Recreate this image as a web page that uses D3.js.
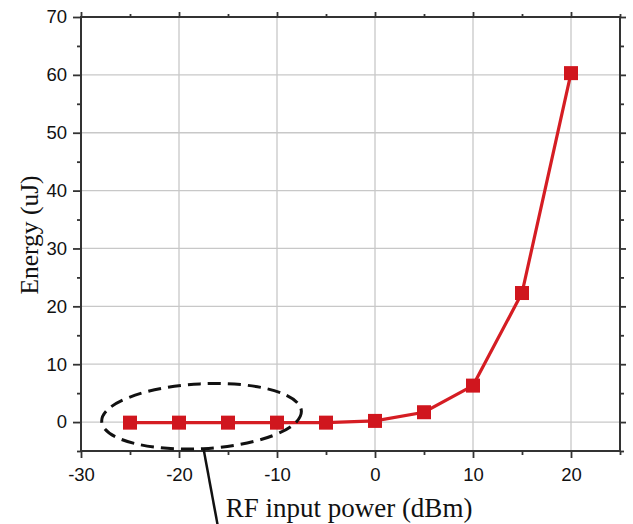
<!DOCTYPE html>
<html><head><meta charset="utf-8">
<script src="https://cdn.jsdelivr.net/npm/d3@7/dist/d3.min.js"></script>
<style>body{margin:0;background:#fff}svg{display:block}</style>
</head><body>
<svg id="c" width="633" height="524"></svg>
<script>
const powers = [-25, -20, -15, -10, -5, 0, 5, 10, 15, 20];
const energies = [-0.1, -0.1, -0.1, -0.1, -0.1, 0.2, 1.7, 6.3, 22.3, 60.3];
const xTicks = [-30, -20, -10, 0, 10, 20];
const yTicks = [0, 10, 20, 30, 40, 50, 60, 70];
const xMinor = [-25, -15, -5, 5, 15, 25];
const yMinor = [-5, 5, 15, 25, 35, 45, 55, 65];
const xLabel = "RF input power (dBm)";
const yLabel = "Energy (uJ)";
const ellipseCenter = [-17.7, 1.0];
const ellipseRadii = [10.2, 5.6];

const svg = d3.select("#c");
const L = 81, R = 620, T = 17, B = 451;
const x = d3.scaleLinear().domain([-30, 25]).range([L, R]);
const y = d3.scaleLinear().domain([-5, 70]).range([B, T]);

// grid
svg.append("g").selectAll("line").data(xTicks.filter(d => d > -30)).join("line")
  .attr("x1", d => x(d)).attr("x2", d => x(d)).attr("y1", T).attr("y2", B)
  .attr("stroke", "#c8c8c8").attr("stroke-width", 1.3);
svg.append("g").selectAll("line").data(yTicks.filter(d => d < 70)).join("line")
  .attr("y1", d => y(d)).attr("y2", d => y(d)).attr("x1", L).attr("x2", R)
  .attr("stroke", "#c8c8c8").attr("stroke-width", 1.3);

const axisColor = "#333";
const fmt = d => String(d);
function styleAxis(g) {
  g.select(".domain").remove();
  g.selectAll("line").attr("stroke", axisColor).attr("stroke-width", 1.8);
  g.selectAll("text").attr("fill", "#111").attr("font-family", "Liberation Sans, Arial, sans-serif").attr("font-size", 18.5);
}
// major axes
svg.append("g").attr("transform", `translate(0,${B})`)
  .call(d3.axisBottom(x).tickValues(xTicks).tickSize(7).tickPadding(10).tickFormat(fmt)).call(styleAxis);
svg.append("g").attr("transform", `translate(${L},0)`)
  .call(d3.axisLeft(y).tickValues(yTicks).tickSize(8).tickPadding(6).tickFormat(fmt)).call(styleAxis);
svg.append("g").attr("transform", `translate(0,${T})`)
  .call(d3.axisTop(x).tickValues(xTicks).tickSize(5).tickFormat("")).call(styleAxis);
svg.append("g").attr("transform", `translate(${R},0)`)
  .call(d3.axisRight(y).tickValues(yTicks).tickSize(6).tickFormat("")).call(styleAxis);
// minor
svg.append("g").attr("transform", `translate(0,${B})`)
  .call(d3.axisBottom(x).tickValues(xMinor).tickSize(4).tickFormat("")).call(styleAxis);
svg.append("g").attr("transform", `translate(${L},0)`)
  .call(d3.axisLeft(y).tickValues(yMinor).tickSize(4).tickFormat("")).call(styleAxis);
svg.append("g").attr("transform", `translate(0,${T})`)
  .call(d3.axisTop(x).tickValues(xMinor).tickSize(3).tickFormat("")).call(styleAxis);
svg.append("g").attr("transform", `translate(${R},0)`)
  .call(d3.axisRight(y).tickValues(yMinor).tickSize(4).tickFormat("")).call(styleAxis);

// frame
svg.append("rect").attr("x", L).attr("y", T).attr("width", R - L).attr("height", B - T)
  .attr("fill", "none").attr("stroke", axisColor).attr("stroke-width", 2);

// series
const pts = powers.map((p, i) => [p, energies[i]]);
svg.append("path").datum(pts)
  .attr("d", d3.line().x(d => x(d[0])).y(d => y(d[1])))
  .attr("fill", "none").attr("stroke", "#d51d23").attr("stroke-width", 3.2);
svg.append("g").selectAll("rect").data(pts).join("rect")
  .attr("x", d => x(d[0]) - 7).attr("y", d => y(d[1]) - 7)
  .attr("width", 14).attr("height", 14).attr("fill", "#d0161e");

// ellipse annotation
const cx = x(ellipseCenter[0]), cy = y(ellipseCenter[1]);
const rx = x(ellipseCenter[0] + ellipseRadii[0]) - cx;
const ry = cy - y(ellipseCenter[1] + ellipseRadii[1]);
svg.append("ellipse").attr("cx", cx).attr("cy", cy).attr("rx", rx).attr("ry", ry)
  .attr("transform", `rotate(-3,${cx},${cy})`)
  .attr("fill", "none").attr("stroke", "#111").attr("stroke-width", 3)
  .attr("stroke-dasharray", "13,7");
svg.append("line").attr("x1", cx + 2).attr("y1", cy + ry).attr("x2", cx + 17).attr("y2", 530)
  .attr("stroke", "#111").attr("stroke-width", 2.5);

// labels
svg.append("text").attr("x", 349).attr("y", 517).attr("text-anchor", "middle")
  .attr("font-family", "Liberation Serif, Times New Roman, serif").attr("font-size", 27)
  .attr("fill", "#111").text(xLabel);
svg.append("text").attr("transform", `translate(38,235) rotate(-90)`).attr("text-anchor", "middle")
  .attr("font-family", "Liberation Serif, Times New Roman, serif").attr("font-size", 25.5)
  .attr("fill", "#111").text(yLabel);
</script>
</body></html>
